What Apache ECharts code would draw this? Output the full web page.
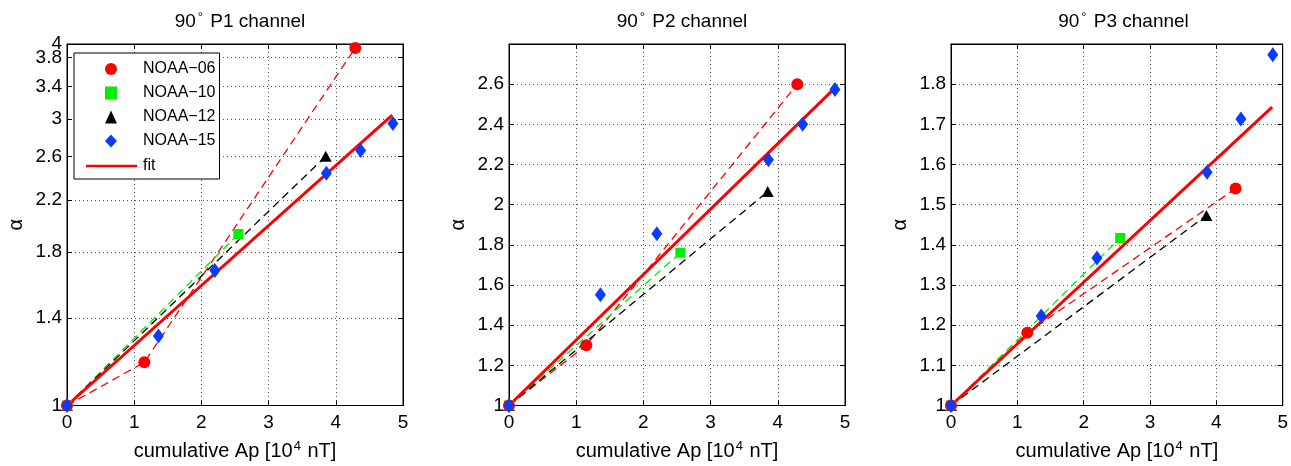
<!DOCTYPE html>
<html>
<head>
<meta charset="utf-8">
<script src="https://cdn.jsdelivr.net/npm/echarts@6/dist/echarts.min.js"></script>
<style>html,body{margin:0;padding:0;background:#fff}#c{width:1291px;height:466px}</style>
</head>
<body>
<div id="c"></div>
<script>
// ---- data (cumulative Ap in 10^4 nT) ----
const apN06 = [0, 1.15, 4.29];
const apN10 = [0, 2.55];
const apN12 = [0, 3.85];
const apN15 = [0, 1.36, 2.2, 3.86, 4.37, 4.85];
const apFit = [0, 4.84];

// P1 channel alpha values
const p1N06 = [1, 1.18, 3.94];
const p1N10 = [1, 1.93];
const p1N12 = [1, 2.60];
const p1N15 = [1, 1.306, 1.678, 2.437, 2.66, 2.95];
const p1Fit = [1, 3.045];

// P2 channel alpha values
const p2N06 = [1, 1.30, 2.60];
const p2N10 = [1, 1.761];
const p2N12 = [1, 2.065];
const p2N15 = [1, 1.552, 1.855, 2.224, 2.40, 2.573];
const p2Fit = [1, 2.578];

// P3 channel alpha values
const p3N06 = [1, 1.181, 1.54];
const p3N10 = [1, 1.417];
const p3N12 = [1, 1.473];
const p3N15 = [1, 1.223, 1.367, 1.581, 1.713, 1.873];
const p3Fit = [1, 1.743];

const titles = ['P1 channel', 'P2 channel', 'P3 channel'];
const p1Ticks = [1, 1.4, 1.8, 2.2, 2.6, 3, 3.4, 3.8, 4];
const p1LabelsLow = [1, 1.4, 1.8, 2.2, 2.6, 3, 3.4, 3.8];
const p1LabelsTop = [4];
const seriesNames = ['NOAA\u221206', 'NOAA\u221210', 'NOAA\u221212', 'NOAA\u221215', 'fit'];

// ---- styling ----
const FONT = 'Liberation Sans, Arial, Helvetica, sans-serif';
const RED = '#ff0000', GREEN = '#00f000', BLACK = '#000000', BLUE = '#0a3cff';
const grids = [
  {left: 67, top: 44, width: 336, height: 363},
  {left: 509, top: 44, width: 336, height: 363},
  {left: 951, top: 44, width: 335, height: 363}
];

function pairs(xs, ys) { return xs.map((x, i) => [x, ys[i]]); }

const chart = echarts.init(document.getElementById('c'), null, {renderer: 'canvas'});

const gridOpt = grids.map(g => Object.assign({show: true, borderColor: '#000', borderWidth: 1, backgroundColor: 'transparent', containLabel: false}, g));

const xAxes = [], yAxes = [], series = [], titleOpt = [];
const splitStyle = {show: true, lineStyle: {color: '#555', type: [1, 3], width: 1}};
const labelFmt = v => String(Math.round(v * 100) / 100);

const panelData = [
  [p1N06, p1N10, p1N12, p1N15, p1Fit],
  [p2N06, p2N10, p2N12, p2N15, p2Fit],
  [p3N06, p3N10, p3N12, p3N15, p3Fit]
];

grids.forEach((g, i) => {
  titleOpt.push({
    text: '90{s|\u00b0} ' + titles[i],
    left: g.left + g.width / 2,
    top: 6,
    textAlign: 'center',
    textStyle: {
      fontFamily: FONT, fontSize: 19, fontWeight: 'normal', color: '#000',
      rich: {s: {fontFamily: FONT, fontSize: 13, padding: [0, 2, 8, 2], color: '#000'}}
    }
  });
  // bottom x
  xAxes.push({
    gridIndex: i, type: 'value', position: 'bottom', min: 0, max: 5, interval: 1,
    name: 'cumulative Ap [10{s|4} nT]', nameLocation: 'middle', nameGap: 34,
    nameTextStyle: {fontFamily: FONT, fontSize: 20, color: '#000',
      rich: {s: {fontFamily: FONT, fontSize: 13, padding: [0, 1, 10, 1], color: '#000'}}},
    axisLine: {show: true, onZero: false, lineStyle: {color: '#000', width: 1}},
    axisTick: {show: true, inside: true, length: 5, lineStyle: {color: '#000'}},
    axisLabel: {fontFamily: FONT, fontSize: 19, color: '#000', margin: 8},
    splitLine: splitStyle
  });
  // top x (ticks only)
  xAxes.push({
    gridIndex: i, type: 'value', position: 'top', min: 0, max: 5, interval: 1,
    axisLine: {show: true, onZero: false, lineStyle: {color: '#000'}},
    axisTick: {show: true, inside: true, length: 5, lineStyle: {color: '#000'}},
    axisLabel: {show: false}, splitLine: {show: false}
  });

  let yBase;
  if (i === 0) {
    yBase = {type: 'log', logBase: 10, min: 1, max: 4,
      axisTick: {show: true, inside: true, length: 5, customValues: p1Ticks, lineStyle: {color: '#000'}},
      axisLabel: {fontFamily: FONT, fontSize: 19, color: '#000', margin: 5, customValues: p1LabelsLow,
        formatter: labelFmt},
      splitLine: splitStyle};
  } else if (i === 1) {
    yBase = {type: 'value', min: 1, max: 2.8, interval: 0.2,
      axisTick: {show: true, inside: true, length: 5, lineStyle: {color: '#000'}},
      axisLabel: {fontFamily: FONT, fontSize: 19, color: '#000', margin: 5, showMaxLabel: false},
      splitLine: splitStyle};
  } else {
    yBase = {type: 'value', min: 1, max: 1.9, interval: 0.1,
      axisTick: {show: true, inside: true, length: 5, lineStyle: {color: '#000'}},
      axisLabel: {fontFamily: FONT, fontSize: 19, color: '#000', margin: 5, showMaxLabel: false},
      splitLine: splitStyle};
  }
  yAxes.push(Object.assign({}, yBase, {
    gridIndex: i, position: 'left',
    name: '\u03b1', nameLocation: 'middle', nameGap: 41, nameRotate: 90,
    nameTextStyle: {fontFamily: FONT, fontSize: 20, color: '#000'},
    axisLine: {show: true, onZero: false, lineStyle: {color: '#000', width: 1}}
  }));
  yAxes.push(Object.assign({}, yBase, {
    gridIndex: i, position: 'right',
    axisLine: {show: true, onZero: false, lineStyle: {color: '#000'}},
    axisLabel: Object.assign({}, yBase.axisLabel, {show: false}),
    splitLine: {show: false}
  }));

  const xi = i * 2, yi = i * 2;
  const d = panelData[i];
  const dashed = (name, xs, ys, color) => ({
    type: 'line', name: name + ' trend', xAxisIndex: xi, yAxisIndex: yi,
    data: pairs(xs, ys), symbol: 'none', z: 2, silent: true, animation: false,
    lineStyle: {color: color, width: 1.3, type: [8, 5]}
  });
  series.push(dashed(seriesNames[0], apN06, d[0], RED));
  series.push(dashed(seriesNames[1], apN10, d[1], GREEN));
  series.push(dashed(seriesNames[2], apN12, d[2], BLACK));
  series.push({
    type: 'line', name: 'fit', xAxisIndex: xi, yAxisIndex: yi,
    data: pairs(apFit, d[4]), symbol: 'none', z: 3, animation: false,
    lineStyle: {color: RED, width: 3}, itemStyle: {color: RED}
  });
  const scat = (name, xs, ys, color, symbol, size) => ({
    type: 'scatter', name: name, xAxisIndex: xi, yAxisIndex: yi,
    data: pairs(xs, ys), symbol: symbol, symbolSize: size, z: 4, animation: false,
    clip: false, itemStyle: {color: color, opacity: 1}
  });
  series.push(scat(seriesNames[2], apN12, d[2], BLACK, 'triangle', [12, 11]));
  series.push(scat(seriesNames[1], apN10, d[1], GREEN, 'rect', 10));
  series.push(scat(seriesNames[0], apN06, d[0], RED, 'circle', 12));
  series.push(scat(seriesNames[3], apN15, d[3], BLUE, 'diamond', [11, 15]));
});

// extra left axis in the first panel carrying only the top "4" label (so it does not hide "3.8")
yAxes.push({
  gridIndex: 0, position: 'left', type: 'log', logBase: 10, min: 1, max: 4,
  axisLine: {show: false}, axisTick: {show: false}, splitLine: {show: false},
  axisLabel: {fontFamily: FONT, fontSize: 19, color: '#000', margin: 5, customValues: p1LabelsTop,
    showMaxLabel: true, formatter: labelFmt}
});

const legendText = {fontFamily: FONT, fontSize: 16, color: '#000', lineHeight: 16};
const option = {
  backgroundColor: '#fff',
  animation: false,
  title: titleOpt,
  grid: gridOpt,
  xAxis: xAxes,
  yAxis: yAxes,
  legend: [
    {
      data: [
        {name: seriesNames[0], icon: 'circle'},
        {name: seriesNames[1], icon: 'rect'},
        {name: seriesNames[2], icon: 'triangle'},
        {name: seriesNames[3], icon: 'diamond'}
      ],
      orient: 'vertical', left: 74, top: 53,
      padding: [8, 4, 30, 31],
      itemWidth: 12, itemHeight: 13, itemGap: 8,
      backgroundColor: '#fff', borderColor: '#000', borderWidth: 1, borderRadius: 0,
      textStyle: Object.assign({padding: [0, 0, 0, 21]}, legendText), selectedMode: false, z: 10
    },
    {
      data: [{name: 'fit', icon: 'rect'}],
      orient: 'vertical', left: 86, top: 158,
      padding: 0,
      itemWidth: 51, itemHeight: 2.5,
      textStyle: Object.assign({padding: [0, 0, 0, 1]}, legendText), selectedMode: false, z: 11
    }
  ],
  series: series
};
chart.setOption(option);
</script>
</body>
</html>
